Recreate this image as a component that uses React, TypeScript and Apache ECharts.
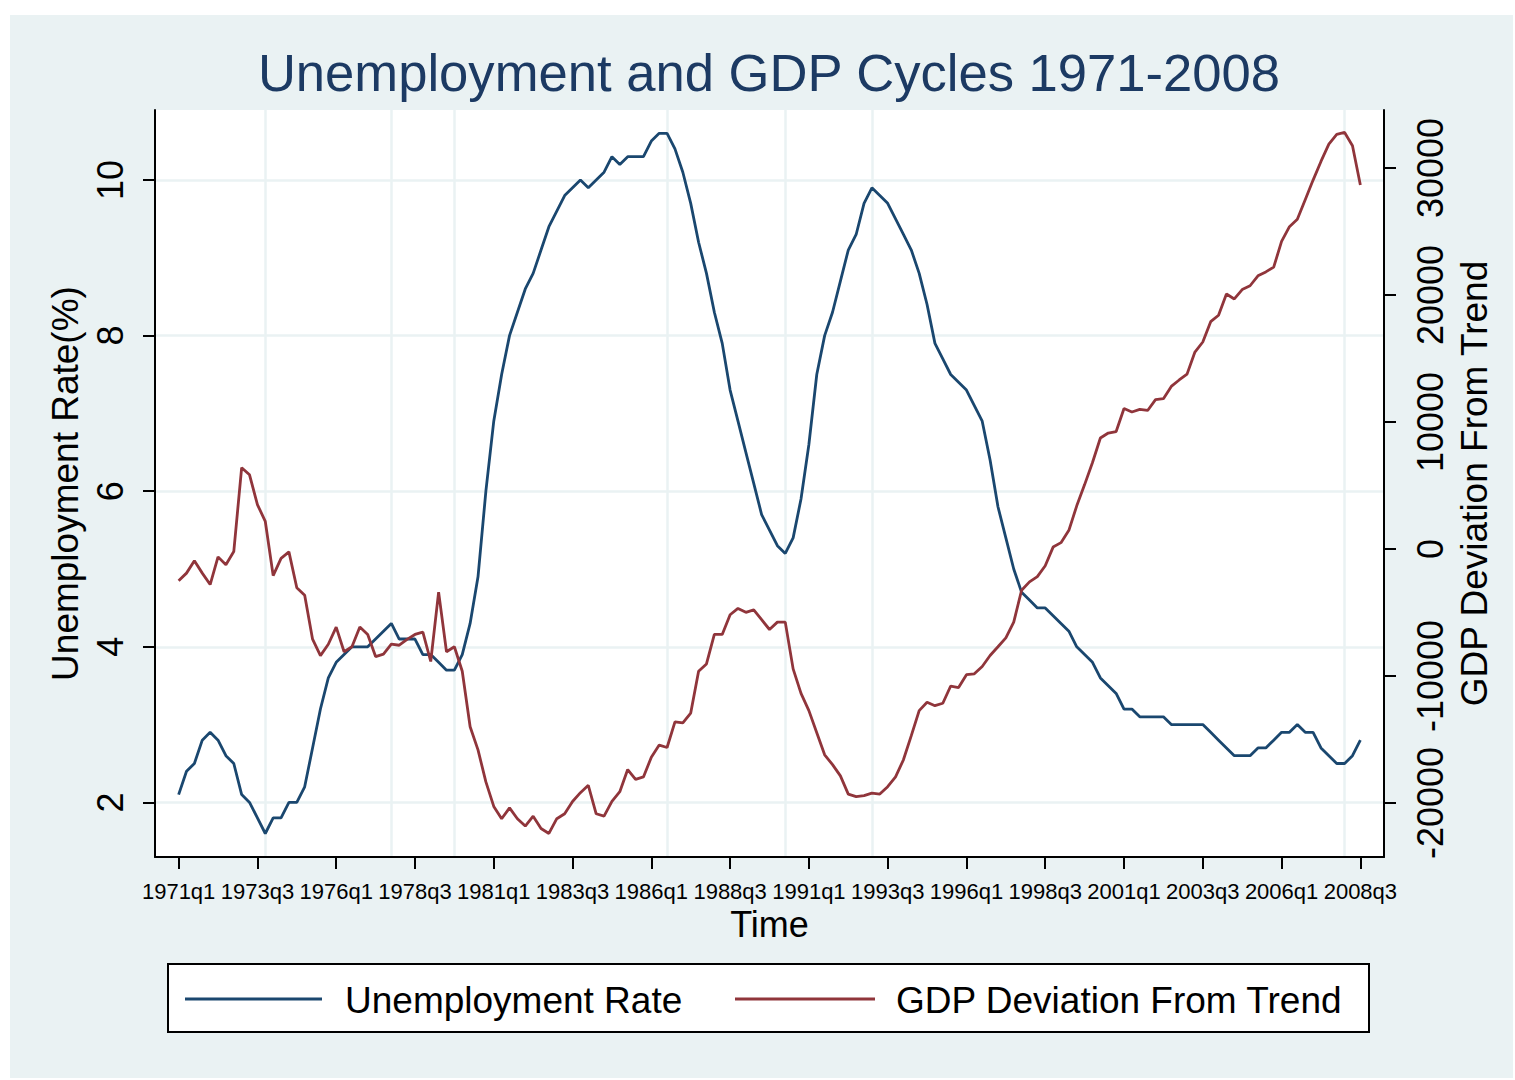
import React, { useEffect, useRef } from "react";
import * as echarts from "echarts";

// ---------------- data ----------------
const firstYear = 1971;

// Unemployment rate (%), quarterly 1971q1 .. 2008q3
const unemploymentRate = [
  2.1, 2.4, 2.5, 2.8, 2.9, 2.8, 2.6, 2.5, 2.1, 2.0,
  1.8, 1.6, 1.8, 1.8, 2.0, 2.0, 2.2, 2.7, 3.2, 3.6,
  3.8, 3.9, 4.0, 4.0, 4.0, 4.1, 4.2, 4.3, 4.1, 4.1,
  4.1, 3.9, 3.9, 3.8, 3.7, 3.7, 3.9, 4.3, 4.9, 6.0,
  6.9, 7.5, 8.0, 8.3, 8.6, 8.8, 9.1, 9.4, 9.6, 9.8,
  9.9, 10.0, 9.9, 10.0, 10.1, 10.3, 10.2, 10.3, 10.3, 10.3,
  10.5, 10.6, 10.6, 10.4, 10.1, 9.7, 9.2, 8.8, 8.3, 7.9,
  7.3, 6.9, 6.5, 6.1, 5.7, 5.5, 5.3, 5.2, 5.4, 5.9,
  6.6, 7.5, 8.0, 8.3, 8.7, 9.1, 9.3, 9.7, 9.9, 9.8,
  9.7, 9.5, 9.3, 9.1, 8.8, 8.4, 7.9, 7.7, 7.5, 7.4,
  7.3, 7.1, 6.9, 6.4, 5.8, 5.4, 5.0, 4.7, 4.6, 4.5,
  4.5, 4.4, 4.3, 4.2, 4.0, 3.9, 3.8, 3.6, 3.5, 3.4,
  3.2, 3.2, 3.1, 3.1, 3.1, 3.1, 3.0, 3.0, 3.0, 3.0,
  3.0, 2.9, 2.8, 2.7, 2.6, 2.6, 2.6, 2.7, 2.7, 2.8,
  2.9, 2.9, 3.0, 2.9, 2.9, 2.7, 2.6, 2.5, 2.5, 2.6,
  2.8,
];

// GDP deviation from trend, quarterly 1971q1 .. 2008q3
const gdpDeviation = [
  -2500, -1900, -930, -1900, -2800, -620, -1240, -200, 6400, 5840,
  3500, 2170, -2100, -735, -230, -3050, -3640, -7100, -8400, -7500,
  -6150, -8090, -7700, -6150, -6730, -8470, -8280, -7500, -7580, -7120,
  -6730, -6540, -8860, -3400, -8090, -7700, -9630, -14000, -15820, -18340,
  -20270, -21240, -20390, -21240, -21820, -21040, -22010, -22400, -21240, -20850,
  -19880, -19190, -18610, -20850, -21040, -19880, -19110, -17370, -18140, -17950,
  -16400, -15440, -15630, -13620, -13690, -12920, -9630, -9050, -6730, -6730,
  -5180, -4680, -4990, -4800, -5570, -6340, -5760, -5760, -9440, -11370,
  -12730, -14470, -16210, -16980, -17870, -19300, -19500, -19420, -19230, -19300,
  -18720, -17950, -16600, -14700, -12730, -12070, -12340, -12150, -10790, -10910,
  -9900, -9830, -9250, -8390, -7700, -7000, -5760, -3250, -2590, -2170,
  -1320, 150, 500, 1470, 3400, 5070, 6810, 8740, 9130, 9250,
  11060, 10790, 10990, 10910, 11760, 11840, 12800, 13310, 13770, 15510,
  16300, 17900, 18410, 20080, 19690, 20430, 20730, 21510, 21820, 22200,
  24220, 25380, 25960, 27500, 29050, 30520, 31880, 32650, 32800, 31760,
  28660,
];

// x tick positions (quarter index from 1971q1)
const quarterTicks = [0, 10, 20, 30, 40, 50, 60, 70, 80, 90, 100, 110, 120, 130, 140, 150];
const leftTicks = [2, 4, 6, 8, 10];
const rightTicks = [-20000, -10000, 0, 10000, 20000, 30000];
// vertical reference lines (quarter index) at cycle turning points
const turningPoints = [11, 27, 35, 62, 77, 88, 148];

const seriesNames = ["Unemployment Rate", "GDP Deviation From Trend"];
const titleText = "Unemployment and GDP Cycles 1971-2008";

// ---------------- style ----------------
const FONT = "'Liberation Sans', Arial, Helvetica, sans-serif";
const BG = "#eaf2f3";
const BLUE = "#1a476f";
const RED = "#90353b";
const TITLE_COLOR = "#1c3a63";

function quarterLabel(v: number): string {
  const i = Math.round(v);
  const y = firstYear + Math.floor(i / 4);
  const q = (i % 4) + 1;
  return `${y}q${q}`;
}

export default function App() {
  const ref = useRef<HTMLDivElement>(null);

  useEffect(() => {
    if (!ref.current) return;
    const chart = echarts.init(ref.current, null, { renderer: "svg" });
    const axisLineStyle = { color: "#000", width: 2 };

    const option: any = {
      animation: false,
      backgroundColor: BG,
      textStyle: { fontFamily: FONT },
      grid: {
        left: 145,
        right: 129,
        top: 95,
        bottom: 221,
        show: true,
        backgroundColor: "#ffffff",
        borderWidth: 0,
        containLabel: false,
      },
      xAxis: [
        {
          type: "value",
          min: -3,
          max: 153,
          position: "bottom",
          name: "Time",
          nameLocation: "middle",
          nameGap: 47,
          nameTextStyle: { fontSize: 36, color: "#000", fontFamily: FONT },
          axisLine: { show: true, onZero: false, lineStyle: axisLineStyle },
          axisTick: { show: true, length: 12, customValues: quarterTicks, lineStyle: axisLineStyle },
          axisLabel: {
            customValues: quarterTicks,
            formatter: (v: number) => quarterLabel(v),
            fontSize: 22,
            color: "#000",
            margin: 23,
            fontFamily: FONT,
          },
          splitLine: { show: false },
        },
        {
          // hidden axis used only for the turning-point reference lines
          type: "value",
          min: -3,
          max: 153,
          position: "top",
          axisLine: { show: false, onZero: false },
          axisTick: { show: false, customValues: turningPoints },
          axisLabel: { show: false, customValues: turningPoints },
          splitLine: {
            show: true,
            lineStyle: { color: BG, width: 2.5 },
          },
        },
      ],
      yAxis: [
        {
          type: "value",
          position: "left",
          min: 1.298,
          max: 10.9,
          name: "Unemployment Rate(%)",
          nameLocation: "middle",
          nameGap: 64,
          nameRotate: 90,
          nameTextStyle: { fontSize: 37, color: "#000", fontFamily: FONT },
          axisLine: { show: true, onZero: false, lineStyle: axisLineStyle },
          axisTick: { show: true, length: 12, customValues: leftTicks, lineStyle: axisLineStyle },
          axisLabel: {
            customValues: leftTicks,
            rotate: 90,
            fontSize: 36,
            color: "#000",
            margin: 27,
            fontFamily: FONT,
          },
          splitLine: {
            show: true,
            lineStyle: { color: BG, width: 2.5 },
          },
        },
        {
          type: "value",
          position: "right",
          min: -24255,
          max: 34570,
          name: "GDP Deviation From Trend",
          nameLocation: "middle",
          nameGap: 48,
          nameRotate: 90,
          nameTextStyle: { fontSize: 37, color: "#000", fontFamily: FONT },
          axisLine: { show: true, onZero: false, lineStyle: axisLineStyle },
          axisTick: { show: true, length: 12, customValues: rightTicks, lineStyle: axisLineStyle },
          axisLabel: {
            customValues: rightTicks,
            formatter: (v: number) => String(Math.round(v)),
            rotate: 90,
            fontSize: 36,
            color: "#000",
            margin: 28,
            fontFamily: FONT,
          },
          splitLine: { show: false },
        },
      ],
      series: [
        {
          name: seriesNames[0],
          type: "line",
          xAxisIndex: 0,
          yAxisIndex: 0,
          data: unemploymentRate.map((v, i) => [i, v]),
          symbol: "none",
          z: 3,
          lineStyle: { color: BLUE, width: 2.8 },
          itemStyle: { color: BLUE },
        },
        {
          name: seriesNames[1],
          type: "line",
          xAxisIndex: 0,
          yAxisIndex: 1,
          data: gdpDeviation.map((v, i) => [i, v]),
          symbol: "none",
          z: 3,
          lineStyle: { color: RED, width: 2.8 },
          itemStyle: { color: RED },
        },
      ],
      graphic: [
        {
          type: "text",
          x: 759,
          y: 57,
          z: 20,
          style: {
            text: titleText,
            fontSize: 52.6,
            fontFamily: FONT,
            fill: TITLE_COLOR,
            align: "center",
            verticalAlign: "middle",
          },
        },
        {
          type: "rect",
          z: 10,
          shape: { x: 158, y: 949, width: 1201, height: 68 },
          style: { fill: "#ffffff", stroke: "#000", lineWidth: 2 },
        },
        {
          type: "line",
          z: 11,
          shape: { x1: 175, y1: 984, x2: 312, y2: 984 },
          style: { stroke: BLUE, lineWidth: 3 },
        },
        {
          type: "text",
          z: 11,
          x: 335,
          y: 985,
          style: {
            text: seriesNames[0],
            fontSize: 37,
            fontFamily: FONT,
            fill: "#000",
            align: "left",
            verticalAlign: "middle",
          },
        },
        {
          type: "line",
          z: 11,
          shape: { x1: 725, y1: 984, x2: 865, y2: 984 },
          style: { stroke: RED, lineWidth: 3 },
        },
        {
          type: "text",
          z: 11,
          x: 886,
          y: 985,
          style: {
            text: seriesNames[1],
            fontSize: 37,
            fontFamily: FONT,
            fill: "#000",
            align: "left",
            verticalAlign: "middle",
          },
        },
      ],
    };

    chart.setOption(option);
    return () => chart.dispose();
  }, []);

  return (
    <div
      style={{
        position: "absolute",
        left: 0,
        top: 0,
        width: 1515,
        height: 1080,
        background: "#ffffff",
        overflow: "hidden",
      }}
    >
      <div
        ref={ref}
        style={{ position: "absolute", left: 10, top: 15, width: 1503, height: 1063 }}
      />
    </div>
  );
}
